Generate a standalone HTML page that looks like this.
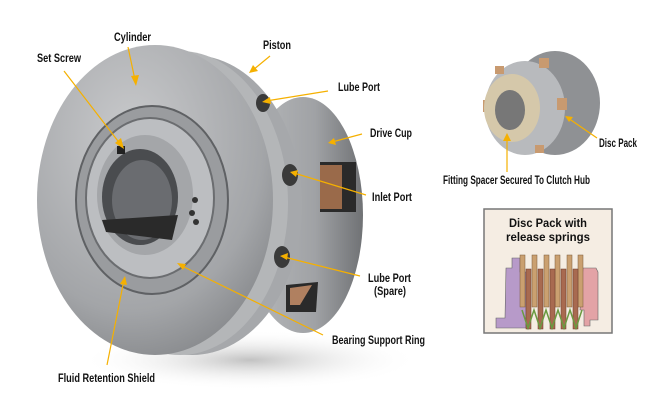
<!DOCTYPE html>
<html><head><meta charset="utf-8"><style>
body{margin:0;background:#fff}
svg{display:block}
text{font-family:"Liberation Sans",sans-serif;font-weight:bold;font-size:12px;fill:#111}
.l{stroke:#f5b000;stroke-width:1.2;fill:none}
.a{fill:#f5b000}
</style></head><body>
<svg width="667" height="400" viewBox="0 0 667 400">
<defs>
<linearGradient id="g2" x1="0" y1="0" x2="1" y2="0"><stop offset="0" stop-color="#b8babc"/><stop offset="0.6" stop-color="#a0a2a5"/><stop offset="1" stop-color="#707275"/></linearGradient>
<radialGradient id="g3" cx="0.4" cy="0.3" r="0.8"><stop offset="0" stop-color="#c9cacc"/><stop offset="0.7" stop-color="#a3a5a8"/><stop offset="1" stop-color="#808285"/></radialGradient>
<radialGradient id="sh" cx="0.5" cy="0.5" r="0.5"><stop offset="0" stop-color="#999" stop-opacity="0.6"/><stop offset="1" stop-color="#fff" stop-opacity="0"/></radialGradient>
</defs>
<ellipse cx="250" cy="360" rx="170" ry="30" fill="url(#sh)"/>
<ellipse cx="303" cy="215" rx="60" ry="118" fill="url(#g2)"/>
<rect x="320" y="162" width="36" height="50" fill="#2a2a2a"/>
<rect x="320" y="165" width="22" height="44" fill="#9a6a4a"/>
<path d="M286 285 L318 282 L316 312 L286 312Z" fill="#2a2a2a"/>
<path d="M290 288 L312 285 L300 305 L290 305Z" fill="#b08060"/>
<ellipse cx="192" cy="205" rx="110" ry="150" fill="#a6a8ab"/>
<ellipse cx="180" cy="203" rx="108" ry="152" fill="#b4b6b8"/>
<ellipse cx="155" cy="200" rx="118" ry="155" fill="url(#g3)"/>
<ellipse cx="263" cy="103" rx="7" ry="9" fill="#3a3a3a"/>
<ellipse cx="290" cy="175" rx="8" ry="11" fill="#3a3a3a"/>
<ellipse cx="282" cy="257" rx="8" ry="11" fill="#3a3a3a"/>
<ellipse cx="152" cy="200" rx="76" ry="94" fill="#9a9c9f" stroke="#5f6164" stroke-width="2"/>
<ellipse cx="150" cy="198" rx="64" ry="80" fill="#bcbec1" stroke="#6b6d70" stroke-width="2"/>
<ellipse cx="145" cy="195" rx="48" ry="60" fill="#a4a6a9"/>
<ellipse cx="140" cy="197" rx="38" ry="48" fill="#4a4c4f"/>
<ellipse cx="142" cy="200" rx="30" ry="40" fill="#6a6c70"/>
<path d="M102 220 L178 215 L172 240 L106 232Z" fill="#2a2a2a"/>
<circle cx="195" cy="200" r="3" fill="#333"/><circle cx="192" cy="213" r="3" fill="#333"/><circle cx="196" cy="222" r="3" fill="#333"/>
<rect x="117" y="146" width="8" height="8" fill="#222"/>
<ellipse cx="555" cy="103" rx="45" ry="52" fill="#8f9194"/>
<ellipse cx="525" cy="108" rx="40" ry="47" fill="#b8babd"/>
<rect x="539" y="58" width="10" height="10" fill="#c89a70"/><rect x="557" y="98" width="10" height="12" fill="#c89a70"/>
<rect x="495" y="66" width="9" height="8" fill="#c89a70"/><rect x="535" y="145" width="9" height="8" fill="#c89a70"/><rect x="483" y="100" width="6" height="12" fill="#c89a70"/>
<ellipse cx="512" cy="108" rx="28" ry="34" fill="#d5c8aa"/>
<ellipse cx="510" cy="110" rx="15" ry="20" fill="#777"/>
<rect x="484" y="209" width="128" height="124" fill="#f5ede3" stroke="#777" stroke-width="1.5"/>
<text x="509" y="227" textLength="78" lengthAdjust="spacingAndGlyphs">Disc Pack with</text>
<text x="506" y="241" textLength="84" lengthAdjust="spacingAndGlyphs">release springs</text>
<path d="M506 268 L512 268 L512 258 L520 258 L520 272 L526 272 L526 328 L496 328 L496 318 L505 318Z" fill="#b79ac9" stroke="#666" stroke-width="0.6"/>
<path d="M583 268 L596 268 L598 272 L598 320 L590 320 L590 326 L584 326 L584 310 L580 310Z" fill="#e3a3a6" stroke="#666" stroke-width="0.6"/>
<g fill="#caa070" stroke="#7a5a3a" stroke-width="0.5">
<rect x="520" y="255" width="5" height="52"/><rect x="532" y="255" width="5" height="52"/><rect x="544" y="255" width="5" height="52"/><rect x="555" y="255" width="5" height="52"/><rect x="567" y="255" width="5" height="52"/><rect x="578" y="255" width="5" height="52"/></g>
<g fill="#a86a50" stroke="#6a3a2a" stroke-width="0.5">
<rect x="526" y="269" width="5" height="60"/><rect x="538" y="269" width="5" height="60"/><rect x="550" y="269" width="5" height="60"/><rect x="561" y="269" width="5" height="60"/><rect x="573" y="269" width="5" height="60"/></g>
<path d="M522 310 L528 328 L534 310 L540 328 L546 310 L552 328 L558 310 L564 328 L570 310 L576 328 L582 310" stroke="#6a9a40" fill="none" stroke-width="1.5"/>
<g class="l">
<line x1="128" y1="47" x2="135" y2="80"/><line x1="64" y1="71" x2="121" y2="145"/>
<line x1="270" y1="56" x2="253" y2="70"/><line x1="328" y1="91" x2="266" y2="101"/>
<line x1="362" y1="134" x2="332" y2="142"/><line x1="366" y1="195" x2="294" y2="173"/>
<line x1="360" y1="276" x2="284" y2="257"/><line x1="323" y1="335" x2="180" y2="265"/>
<line x1="107" y1="365" x2="124" y2="280"/>
<line x1="597" y1="138" x2="568" y2="118"/><line x1="507" y1="172" x2="507" y2="137"/>
</g>
<g class="a">
<polygon points="136,86 131,76 139,75"/><polygon points="124,149 115,143 121,138"/>
<polygon points="249,73 253,65 258,71"/><polygon points="262,102 270,97 271,104"/>
<polygon points="328,143 334,138 336,145"/><polygon points="290,172 298,170 296,177"/>
<polygon points="280,256 288,253 287,260"/><polygon points="177,263 186,264 183,270"/>
<polygon points="125,276 127,285 120,284"/>
<polygon points="565,116 573,117 569,122"/><polygon points="507,133 511,141 503,141"/>
</g>
<text x="114" y="41" textLength="37" lengthAdjust="spacingAndGlyphs">Cylinder</text>
<text x="37" y="62" textLength="44" lengthAdjust="spacingAndGlyphs">Set Screw</text>
<text x="263" y="49" textLength="28" lengthAdjust="spacingAndGlyphs">Piston</text>
<text x="338" y="91" textLength="42" lengthAdjust="spacingAndGlyphs">Lube Port</text>
<text x="370" y="137" textLength="42" lengthAdjust="spacingAndGlyphs">Drive Cup</text>
<text x="372" y="201" textLength="40" lengthAdjust="spacingAndGlyphs">Inlet Port</text>
<text x="368" y="282" textLength="43" lengthAdjust="spacingAndGlyphs">Lube Port</text>
<text x="374" y="295" textLength="32" lengthAdjust="spacingAndGlyphs">(Spare)</text>
<text x="332" y="344" textLength="93" lengthAdjust="spacingAndGlyphs">Bearing Support Ring</text>
<text x="58" y="382" textLength="97" lengthAdjust="spacingAndGlyphs">Fluid Retention Shield</text>
<text x="599" y="147" textLength="38" lengthAdjust="spacingAndGlyphs">Disc Pack</text>
<text x="443" y="184" textLength="147" lengthAdjust="spacingAndGlyphs">Fitting Spacer Secured To Clutch Hub</text>
</svg>
</body></html>
